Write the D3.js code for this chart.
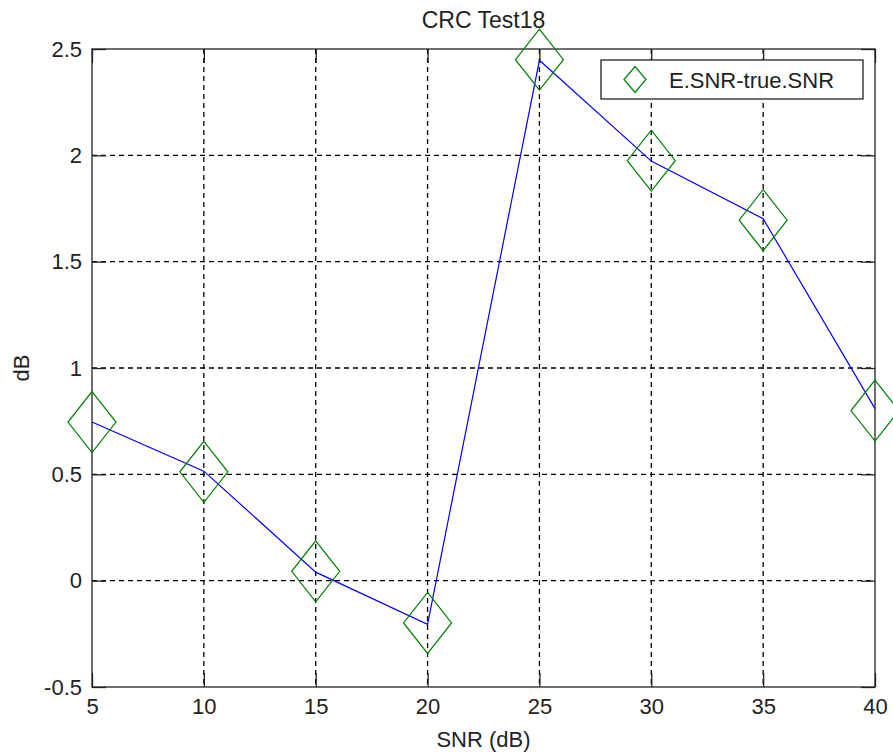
<!DOCTYPE html>
<html>
<head>
<meta charset="utf-8">
<script src="https://cdn.jsdelivr.net/npm/d3@7"></script>
<style>
  html, body { margin: 0; padding: 0; background: #fff; }
  svg { display: block; font-family: "Liberation Sans", Arial, sans-serif; }
</style>
</head>
<body>
<script>
/* Data */
var snr = [5, 10, 15, 20, 25, 30, 35, 40];
var lineValues = [0.746, 0.515, 0.04, -0.205, 2.447, 1.973, 1.702, 0.809];
var markerValues = [0.746, 0.512, 0.044, -0.199, 2.45, 1.975, 1.695, 0.80];
var xTicks = [5, 10, 15, 20, 25, 30, 35, 40];
var yTicks = [-0.5, 0, 0.5, 1, 1.5, 2, 2.5];
var yTickLabels = ["-0.5", "0", "0.5", "1", "1.5", "2", "2.5"];
var seriesName = "E.SNR-true.SNR";
var title = "CRC Test18";

/* Chart */
var width = 893, height = 755;
var margin = {left: 92, right: 18, top: 49, bottom: 68};

var svg = d3.select("body").append("svg")
    .attr("width", width)
    .attr("height", height);

var x = d3.scaleLinear()
    .domain([5, 40])
    .range([margin.left, width - margin.right]);

var y = d3.scaleLinear()
    .domain([-0.5, 2.5])
    .range([height - margin.bottom, margin.top]);

var tickLen = 14;
var fontSize = 22;
var textCol = "#222";

// grid
var grid = svg.append("g")
    .attr("stroke", "#000")
    .attr("stroke-width", 1.3)
    .attr("stroke-dasharray", "5,4");

grid.selectAll(".vg")
    .data(xTicks.slice(1, -1))
    .enter().append("line")
    .attr("x1", function(d) { return x(d); })
    .attr("x2", function(d) { return x(d); })
    .attr("y1", y(2.5))
    .attr("y2", y(-0.5));

grid.selectAll(".hg")
    .data(yTicks.slice(1, -1))
    .enter().append("line")
    .attr("y1", function(d) { return y(d); })
    .attr("y2", function(d) { return y(d); })
    .attr("x1", x(5))
    .attr("x2", x(40));

// axes with inward ticks on all sides
var yFmt = function(d) { return yTickLabels[yTicks.indexOf(d)]; };
var axBottom = d3.axisBottom(x).tickValues(xTicks).tickSize(-tickLen).tickPadding(11);
var axTop = d3.axisTop(x).tickValues(xTicks).tickSize(-tickLen).tickFormat("");
var axLeft = d3.axisLeft(y).tickValues(yTicks).tickSize(-tickLen).tickPadding(10).tickFormat(yFmt);
var axRight = d3.axisRight(y).tickValues(yTicks).tickSize(-tickLen).tickFormat("");

function styleAxis(g) {
    g.select(".domain").remove();
    g.selectAll(".tick line").attr("stroke", "#222").attr("stroke-width", 1.3);
    g.selectAll("text")
        .attr("fill", textCol)
        .style("font-size", fontSize + "px")
        .style("font-family", "'Liberation Sans', Arial, sans-serif");
}

svg.append("g").attr("transform", "translate(0," + y(-0.5) + ")").call(axBottom).call(styleAxis);
svg.append("g").attr("transform", "translate(0," + y(2.5) + ")").call(axTop).call(styleAxis);
svg.append("g").attr("transform", "translate(" + x(5) + ",0)").call(axLeft).call(styleAxis);
svg.append("g").attr("transform", "translate(" + x(40) + ",0)").call(axRight).call(styleAxis);

// frame
svg.append("rect")
    .attr("x", x(5))
    .attr("y", y(2.5))
    .attr("width", x(40) - x(5))
    .attr("height", y(-0.5) - y(2.5))
    .attr("fill", "none")
    .attr("stroke", "#222")
    .attr("stroke-width", 1.3);

// line
var line = d3.line()
    .x(function(d, i) { return x(snr[i]); })
    .y(function(d) { return y(d); });

svg.append("path")
    .datum(lineValues)
    .attr("d", line)
    .attr("fill", "none")
    .attr("stroke", "#0000ff")
    .attr("stroke-width", 1.2);

// diamonds
function diamond(cx, cy, hw, hh) {
    var p = d3.path();
    p.moveTo(cx, cy - hh);
    p.lineTo(cx + hw, cy);
    p.lineTo(cx, cy + hh);
    p.lineTo(cx - hw, cy);
    p.closePath();
    return p.toString();
}

svg.selectAll(".marker")
    .data(markerValues)
    .enter().append("path")
    .attr("class", "marker")
    .attr("d", function(d, i) { return diamond(x(snr[i]), y(d), 24, 30.5); })
    .attr("fill", "none")
    .attr("stroke", "#008000")
    .attr("stroke-width", 1.2);

// title and labels
svg.append("text")
    .attr("x", (x(5) + x(40)) / 2)
    .attr("y", 28)
    .attr("text-anchor", "middle")
    .attr("fill", textCol)
    .style("font-size", "23px")
    .text(title);

svg.append("text")
    .attr("x", (x(5) + x(40)) / 2)
    .attr("y", 747)
    .attr("text-anchor", "middle")
    .attr("fill", textCol)
    .style("font-size", fontSize + "px")
    .text("SNR (dB)");

svg.append("text")
    .attr("transform", "translate(29," + (y(-0.5) + y(2.5)) / 2 + ") rotate(-90)")
    .attr("text-anchor", "middle")
    .attr("fill", textCol)
    .style("font-size", fontSize + "px")
    .text("dB");

// legend
var legend = svg.append("g");
legend.append("rect")
    .attr("x", 601)
    .attr("y", 60)
    .attr("width", 262)
    .attr("height", 39)
    .attr("fill", "#fff")
    .attr("stroke", "#222")
    .attr("stroke-width", 1.3);

legend.append("path")
    .attr("d", diamond(635, 79.5, 11, 13))
    .attr("fill", "none")
    .attr("stroke", "#008000")
    .attr("stroke-width", 1.2);

legend.append("text")
    .attr("x", 669)
    .attr("y", 87.5)
    .attr("fill", textCol)
    .style("font-size", fontSize + "px")
    .text(seriesName);
</script>
</body>
</html>
